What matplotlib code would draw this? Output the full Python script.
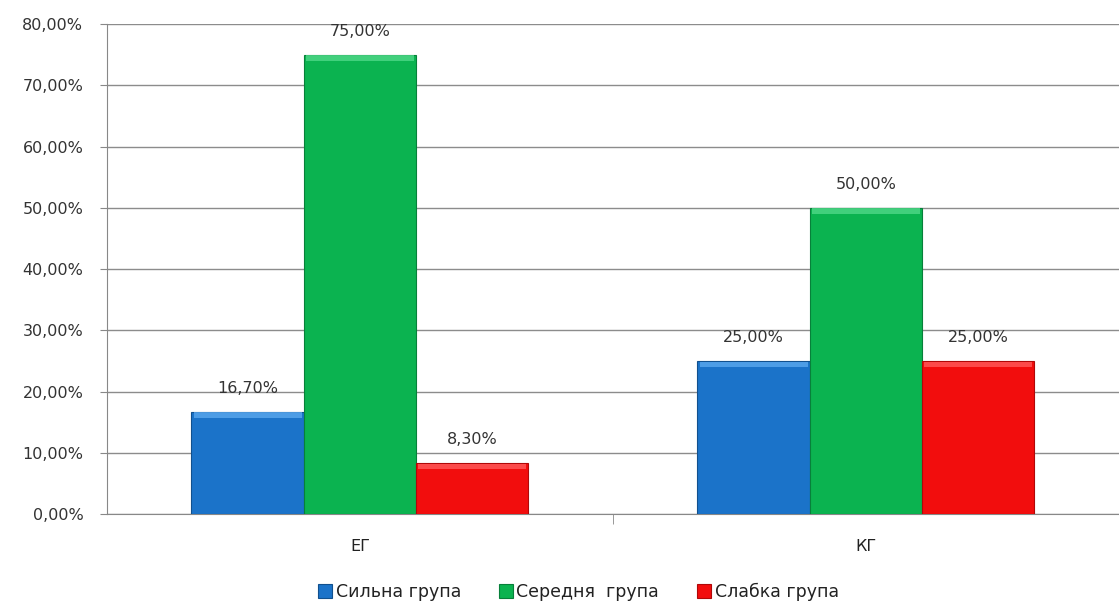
import numpy as np
from matplotlib import pyplot as plt
from matplotlib.ticker import FuncFormatter, MultipleLocator

categories = ['ЕГ', 'КГ']
series_names = ['Сильна група', 'Середня  група', 'Слабка група']
strong = [16.7, 25.0]
middle = [75.0, 50.0]
weak = [8.3, 25.0]

colors = ['#1b73c9', '#0bb350', '#f20d0d']
edges = ['#11508e', '#07803a', '#b00808']
tops = ['#5aa8ee', '#4fd888', '#ff5a5a']


def pct(v, pos=None):
    return ('%.2f%%' % v).replace('.', ',')


fig = plt.figure(figsize=(11.19, 6.04), dpi=100)
ax = fig.add_axes([0.0956, 0.149, 0.9044, 0.811])

x = np.arange(len(categories))
w = 0.222
offsets = [-w, 0, w]
for vals, name, c, e, t, off in zip([strong, middle, weak], series_names, colors, edges, tops, offsets):
    ax.bar(x + off, vals, w, color=c, edgecolor=e, linewidth=0.8, label=name, zorder=3)
    # light bevel along the top of each bar
    ax.bar(x + off, [0.9] * len(vals), w * 0.96, bottom=np.array(vals) - 1.0,
           color=t, linewidth=0, alpha=0.8, zorder=4)
    for xi, v in zip(x + off, vals):
        ax.text(xi, v + 3.8, pct(v), ha='center', va='center', fontsize=11.5, color='#333333')

ax.set_xlim(-0.5, 1.5)
ax.set_ylim(0, 80)
ax.yaxis.set_major_locator(MultipleLocator(10))
ax.yaxis.set_major_formatter(FuncFormatter(pct))
ax.set_xticks(x)
ax.set_xticklabels(categories)
ax.set_xticks([0.5], minor=True)
ax.tick_params(axis='x', which='major', length=0, pad=18, labelsize=11.5, labelcolor='#222222')
ax.tick_params(axis='x', which='minor', length=7, color='#888888', direction='out')
ax.tick_params(axis='y', length=5, color='#888888', labelsize=11.5, labelcolor='#333333', pad=12)

ax.grid(axis='y', color='#8c8c8c', linewidth=1, zorder=0)
for side in ['top', 'right']:
    ax.spines[side].set_visible(False)
for side in ['left', 'bottom']:
    ax.spines[side].set_color('#888888')

h, l = ax.get_legend_handles_labels()
fig.legend(h, l, loc='center', bbox_to_anchor=(0.517, 0.02), ncol=3, frameon=False,
           fontsize=12.5, handlelength=0.8, handleheight=0.8, handletextpad=0.2,
           columnspacing=2.2, labelcolor='#222222')

fig.savefig('out.png', dpi=100)
